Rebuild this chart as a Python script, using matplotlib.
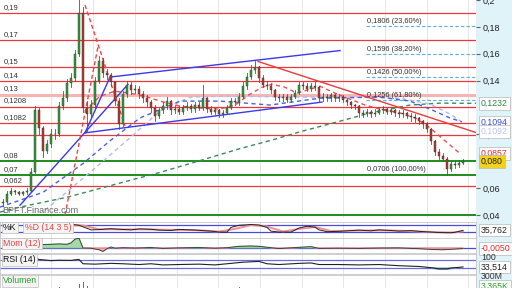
import matplotlib
matplotlib.use('Agg')
import matplotlib.pyplot as plt
import matplotlib.transforms as mtransforms
from matplotlib.patches import Rectangle

plt.rcParams['font.family'] = ['Liberation Sans', 'DejaVu Sans']

# ---- price data (one bar per session) ----
closes = [0.050, 0.056, 0.058, 0.057, 0.056, 0.057, 0.058, 0.072, 0.118, 0.105,
          0.088, 0.093, 0.100, 0.100, 0.121, 0.127, 0.138, 0.142, 0.160, 0.190,
          0.120, 0.115, 0.122, 0.140, 0.155, 0.146, 0.144, 0.139, 0.125, 0.108,
          0.130, 0.137, 0.133, 0.134, 0.130, 0.127, 0.124, 0.120, 0.114, 0.118,
          0.121, 0.125, 0.118, 0.119, 0.117, 0.120, 0.121, 0.119, 0.122, 0.120,
          0.127, 0.119, 0.117, 0.118, 0.115, 0.116, 0.120, 0.125, 0.124, 0.128,
          0.136, 0.143, 0.148, 0.150, 0.142, 0.137, 0.136, 0.133, 0.128, 0.127,
          0.128, 0.126, 0.128, 0.131, 0.137, 0.136, 0.134, 0.136, 0.135, 0.127,
          0.128, 0.127, 0.129, 0.127, 0.128, 0.126, 0.124, 0.122, 0.121, 0.116,
          0.115, 0.117, 0.115, 0.116, 0.118, 0.119, 0.117, 0.118, 0.116, 0.115,
          0.116, 0.114, 0.113, 0.112, 0.110, 0.108, 0.104, 0.095, 0.087, 0.084,
          0.082, 0.074, 0.078, 0.077, 0.079, 0.080]
highs = [0.052, 0.058, 0.060, 0.059, 0.058, 0.058, 0.060, 0.075, 0.121, 0.120,
         0.106, 0.096, 0.104, 0.104, 0.124, 0.132, 0.141, 0.146, 0.163, 0.205,
         0.195, 0.125, 0.126, 0.143, 0.158, 0.157, 0.149, 0.146, 0.140, 0.127,
         0.132, 0.140, 0.139, 0.137, 0.136, 0.132, 0.129, 0.126, 0.122, 0.120,
         0.124, 0.128, 0.126, 0.122, 0.121, 0.122, 0.124, 0.123, 0.124, 0.124,
         0.137, 0.128, 0.121, 0.120, 0.119, 0.118, 0.122, 0.127, 0.127, 0.131,
         0.139, 0.146, 0.152, 0.155, 0.151, 0.144, 0.140, 0.138, 0.134, 0.130,
         0.130, 0.130, 0.130, 0.133, 0.139, 0.139, 0.138, 0.138, 0.139, 0.136,
         0.131, 0.130, 0.131, 0.130, 0.130, 0.129, 0.127, 0.125, 0.123, 0.122,
         0.118, 0.119, 0.118, 0.119, 0.120, 0.121, 0.120, 0.120, 0.119, 0.118,
         0.118, 0.117, 0.116, 0.115, 0.113, 0.111, 0.109, 0.105, 0.096, 0.089,
         0.086, 0.083, 0.080, 0.080, 0.081, 0.082]
lows = [0.047, 0.049, 0.055, 0.056, 0.055, 0.055, 0.056, 0.057, 0.071, 0.100,
        0.083, 0.086, 0.091, 0.097, 0.099, 0.119, 0.125, 0.135, 0.140, 0.158,
        0.117, 0.102, 0.112, 0.120, 0.138, 0.143, 0.141, 0.136, 0.122, 0.104,
        0.106, 0.128, 0.130, 0.131, 0.127, 0.124, 0.121, 0.117, 0.110, 0.112,
        0.116, 0.119, 0.115, 0.116, 0.115, 0.115, 0.118, 0.117, 0.117, 0.118,
        0.118, 0.117, 0.115, 0.115, 0.113, 0.113, 0.115, 0.119, 0.122, 0.122,
        0.127, 0.134, 0.141, 0.146, 0.139, 0.135, 0.134, 0.131, 0.126, 0.125,
        0.125, 0.124, 0.124, 0.127, 0.130, 0.134, 0.132, 0.132, 0.133, 0.124,
        0.125, 0.125, 0.125, 0.125, 0.125, 0.124, 0.122, 0.120, 0.119, 0.113,
        0.113, 0.114, 0.113, 0.114, 0.115, 0.116, 0.115, 0.115, 0.114, 0.113,
        0.113, 0.112, 0.110, 0.109, 0.108, 0.105, 0.102, 0.093, 0.085, 0.082,
        0.080, 0.070, 0.073, 0.075, 0.076, 0.078]
first_open = 0.049

# ---- moving averages (bar position, value) ----
ma_green_x = [-0.75, 4.25, 16, 31.75, 39.25, 49.25, 59.25, 67.5, 74.25, 83.5, 91.75, 101.75, 109.25, 118.25]
ma_green_y = [0.0423, 0.0460, 0.0533, 0.0659, 0.0718, 0.0806, 0.0895, 0.0961, 0.1020, 0.1093, 0.1160, 0.1219, 0.1233, 0.1232]
ma_blue_x = [-0.75, 10, 20, 26.75, 34.25, 44.25, 54.25, 66.75, 79.25, 94.25, 101.75, 106.75, 111.75, 114.75]
ma_blue_y = [0.0460, 0.0570, 0.0784, 0.0953, 0.1123, 0.1248, 0.1248, 0.1219, 0.1270, 0.1278, 0.1248, 0.1189, 0.1123, 0.1094]
ma_lav_x = [10.5, 21.75, 31.75, 39.25, 46.75, 56.75, 74.25, 86.75, 99.25, 106.75, 111.75, 114.75]
ma_lav_y = [0.0437, 0.0718, 0.0975, 0.1175, 0.1278, 0.1285, 0.1278, 0.1278, 0.1270, 0.1226, 0.1152, 0.1092]
ma_red_x = [20.5, 24.25, 28, 31.75, 35.5, 39.25, 44.25, 49.25, 54.25, 58, 61.75, 64.75, 67.25,
            70.5, 73.5, 76.75, 79.25, 83, 86.75, 90.5, 94.25, 99.25, 103, 106.75, 110.5, 114.25]
ma_red_y = [0.1175, 0.1285, 0.1322, 0.1307, 0.1285, 0.1248, 0.1211, 0.1197, 0.1189, 0.1219, 0.1300, 0.1351, 0.1374,
            0.1351, 0.1307, 0.1337, 0.1359, 0.1307, 0.1263, 0.1219, 0.1189, 0.1160, 0.1123, 0.1049, 0.0953, 0.0858]

# ---- drawn trendlines ((x0, y0), (x1, y1)) ----
blue_trends = [((4.25, 0.0474), (31.25, 0.1373)), ((20.5, 0.1012), (26.75, 0.1427)),
               ((26.75, 0.1427), (84.25, 0.1624)), ((20.5, 0.1012), (79.75, 0.1241))]
red_trends = [((63.75, 0.1543), (118.5, 0.1012))]
red_dash_trends = [((20.5, 0.1963), (30.5, 0.1064)), ((15.5, 0.040), (23.75, 0.1654))]

# ---- horizontal levels ----
red_levels = [0.19, 0.17, 0.15, 0.14, 0.1208, 0.1082, 0.0995, 0.062]
green_levels = [0.08, 0.07, 0.04]
pink_levels = [0.1292]
left_labels = [(0.19, '0,19'), (0.17, '0,17'), (0.15, '0,15'), (0.14, '0,14'), (0.13, '0,13'),
               (0.1208, '0,1208'), (0.1082, '0,1082'), (0.08, '0,08'), (0.07, '0,07'), (0.062, '0,062')]
fib_levels = [0.1806, 0.1596, 0.1426, 0.1256]
fib_labels = ['0,1806 (23,60%)', '0,1596 (38,20%)', '0,1426 (50,00%)', '0,1256 (61,80%)']
fib_base = 0.0706
fib_base_label = '0,0706 (100,00%)'
grid_x = [12, 22.5, 33, 43.5, 53.75, 64.25, 74.75, 85, 95.5, 106, 116.25]
right_ticks = [0.04, 0.06, 0.1, 0.14, 0.16, 0.18, 0.2]
right_tick_labels = ['0,04', '0,06', '0,1', '0,14', '0,16', '0,18', '0,2']

# ---- indicators ----
stoch_k_x = [14, 18, 19, 22, 24, 27, 29, 32, 34, 37, 39, 42, 44, 47, 49, 52, 54, 56, 57, 59,
             62, 64, 66, 67, 69, 72, 74, 76, 78, 79, 81, 84, 87, 89, 92, 94, 97, 99, 102, 104,
             107, 109, 112, 113, 115]
stoch_k = [80, 82, 78, 40, 42, 50, 45, 40, 48, 45, 38, 35, 44, 40, 36, 30, 22, 22, 60, 78,
           84, 80, 60, 30, 22, 22, 55, 70, 62, 40, 25, 28, 34, 38, 32, 40, 35, 30, 34, 28,
           22, 18, 17, 20, 36]
stoch_d_x = [14, 20, 24, 30, 36, 42, 48, 54, 58, 62, 66, 70, 74, 78, 82, 88, 94, 100, 106, 112, 115]
stoch_d = [80, 76, 45, 44, 44, 40, 38, 26, 48, 80, 68, 26, 48, 64, 30, 34, 36, 32, 24, 17, 28]
mom_x = [8, 10, 12, 14, 16, 17, 18, 19, 20, 22, 24, 25, 26, 27, 28, 30, 33, 37, 40, 44,
         49, 53, 56, 59, 62, 64, 67, 69, 74, 77, 79, 84, 89, 94, 99, 104, 108, 110, 113, 115]
mom = [0.012, 0.018, 0.020, 0.022, 0.020, 0.028, 0.050, 0.056, -0.002, -0.003,
       -0.012, -0.022, -0.006, 0.004, -0.003, 0.0, -0.002, 0.001, -0.004, -0.001,
       0.001, -0.003, 0.0, 0.008, 0.010, 0.008, 0.0, -0.005, 0.002, 0.006,
       -0.004, -0.003, -0.004, -0.002, -0.001, -0.006, -0.011, -0.012, -0.008, -0.005]
rsi_x = [8, 9, 12, 14, 17, 18, 19, 20, 23, 27, 30, 34, 37, 40, 44, 49, 53, 57, 60, 64,
         66, 69, 74, 77, 79, 84, 89, 94, 99, 104, 107, 109, 111, 112, 115]
rsi = [80, 72, 66, 68, 67, 70, 72, 50, 48, 52, 50, 46, 50, 44, 46, 48, 44, 52, 58, 62,
       50, 46, 52, 54, 46, 46, 44, 46, 40, 36, 30, 24, 24, 28, 33.5]
vol_x = [8, 14, 19, 20, 21, 59]
vol = [160, 150, 190, 210, 170, 150]  # millions
vol_up = [False, True, True, False, False, True]

W, H = 512, 288
fig = plt.figure(figsize=(W / 100, H / 100), dpi=100)
fig.patch.set_facecolor('white')
fig.patches.append(Rectangle((476 / W, 0), 36 / W, 1, transform=fig.transFigure,
                             facecolor='#dff3f9', edgecolor='none', zorder=-5))


def box(x0, y0, x1, y1):
    return [x0 / W, 1 - y1 / H, (x1 - x0) / W, (y1 - y0) / H]


XLIM = (-0.75, 118.25)

# ---------------- main price panel ----------------
ax = fig.add_axes(box(0, 0, 476, 218))
ax.set_xlim(*XLIM)
ax.set_ylim(0.0379, 0.1985)
ax.set_facecolor('white')
for s in ax.spines.values():
    s.set_visible(False)
ax.set_xticks([])
ax.yaxis.tick_right()
ax.set_yticks(right_ticks)
ax.set_yticklabels(right_tick_labels)
ax.tick_params(axis='y', length=3, pad=1.5, labelsize=6.5, color='#666', labelcolor='#222')

for gx in grid_x:
    ax.axvline(gx, color='#e2e2e2', lw=0.6, zorder=1)

for lv in red_levels:
    ax.axhline(lv, color='#e8383d', lw=0.9, zorder=2)
for lv in pink_levels:
    ax.axhline(lv, color='#f5b5b5', lw=2.2, zorder=2)
for lv in green_levels:
    ax.axhline(lv, color='#1f8c1f', lw=1.4, zorder=2)

ylab = mtransforms.blended_transform_factory(ax.transAxes, ax.transData)
for lv, txt in left_labels:
    ax.text(0.008, lv + 0.0015, txt, transform=ylab, fontsize=5.5, color='#333', va='bottom', zorder=6)

fib_x0 = 90.75
for lv, txt in zip(fib_levels, fib_labels):
    ax.plot([fib_x0, XLIM[1]], [lv, lv], color='#55b0e8', lw=0.8, ls=(0, (3, 2)), zorder=3)
    ax.text(fib_x0 + 0.3, lv + 0.0009, txt, fontsize=5.3, color='#333', va='bottom', zorder=6)
ax.text(fib_x0 + 0.3, fib_base + 0.0009, fib_base_label, fontsize=5.3, color='#333', va='bottom', zorder=6)

# moving averages
ax.plot(ma_green_x, ma_green_y, color='#3a8a5a', lw=1.0, ls=(0, (3, 2.5)), zorder=3)
ax.plot(ma_lav_x, ma_lav_y, color='#b4b8f0', lw=1.0, ls=(0, (3, 2.5)), zorder=3)
ax.plot(ma_blue_x, ma_blue_y, color='#4a62d8', lw=1.0, ls=(0, (3, 2.5)), zorder=3)
ax.plot(ma_red_x, ma_red_y, color='#e85050', lw=1.0, ls=(0, (3, 2.5)), zorder=3)

# trendlines
for (x0, y0), (x1, y1) in blue_trends:
    ax.plot([x0, x1], [y0, y1], color='#3a3ae6', lw=1.0, zorder=4)
for (x0, y0), (x1, y1) in red_trends:
    ax.plot([x0, x1], [y0, y1], color='#e83c3c', lw=1.0, zorder=4)
for (x0, y0), (x1, y1) in red_dash_trends:
    ax.plot([x0, x1], [y0, y1], color='#e84848', lw=1.0, ls=(0, (3, 2)), zorder=4)

# candles
opens = [first_open] + closes[:-1]
for i, (o, h, l, c) in enumerate(zip(opens, highs, lows, closes)):
    ax.plot([i, i], [l, h], color='#555', lw=0.6, zorder=5)
    col = '#2f9e38' if c >= o else '#b83a2a'
    ax.add_patch(Rectangle((i - 0.32, min(o, c)), 0.64, max(abs(c - o), 0.0006),
                           facecolor=col, edgecolor='#333', lw=0.3, zorder=5))

ax.text(0.004, 0.0405, 'BPFT.Finance.com', transform=ylab, fontsize=6.5, color='#666',
        va='bottom', zorder=6)


# right value boxes
def value_box(a, y, txt, color, fc='white', transform=None):
    a.text(481 / 476, y, txt, transform=transform, fontsize=6.3, color=color, va='center', ha='left',
           clip_on=False, zorder=10,
           bbox=dict(boxstyle='square,pad=0.2', facecolor=fc, edgecolor='#b8b8b8', lw=0.5))


value_box(ax, 0.1232, '0,1232', '#2a8a3a', transform=ylab)
value_box(ax, 0.1094, '0,1094', '#3a50c8', transform=ylab)
value_box(ax, 0.1022, '0,1092', '#c0c4f0', transform=ylab)
value_box(ax, 0.0857, '0,0857', '#e03030', transform=ylab)
value_box(ax, 0.0800, '0,080', '#222', fc='#f2d21a', transform=ylab)


def sub_panel(y0, y1):
    a = fig.add_axes(box(0, y0, 476, y1))
    a.set_xlim(*XLIM)
    a.set_xticks([])
    a.set_yticks([])
    a.set_facecolor('white')
    for s in a.spines.values():
        s.set_color('#c8c8c8')
        s.set_linewidth(0.6)
    for gx in grid_x:
        a.axvline(gx, color='#e2e2e2', lw=0.6, zorder=1)
    return a


def tag(a, x, txt, color):
    a.text(x, 0.93, txt, transform=a.transAxes, fontsize=6.3, color=color, va='top', ha='left',
           zorder=10, bbox=dict(boxstyle='square,pad=0.15', facecolor='#f4f4f4', edgecolor='#c0c0c0', lw=0.5))


# ---------------- stochastic ----------------
st = sub_panel(222, 237.5)
st.set_ylim(-22.7, 104.7)
for lv in (80, 20):
    st.axhline(lv, color='#4a4ad8', lw=0.9, zorder=2)
st.plot(stoch_d_x, stoch_d, color='#f09090', lw=1.4, zorder=3)
st.plot(stoch_k_x, stoch_k, color='#222', lw=0.7, zorder=4)
tag(st, 0.006, '%K', '#111')
tag(st, 0.052, '%D (14 3 5)', '#e04848')
stt = mtransforms.blended_transform_factory(st.transAxes, st.transData)
value_box(st, 40, '35,762', '#222', transform=stt)

# ---------------- momentum ----------------
mo = sub_panel(238, 253)
mo.set_ylim(-0.0312, 0.057)
mo.axhline(0, color='#4a4ad8', lw=0.9, zorder=2)
mo.fill_between(mom_x, mom, 0, where=[v >= 0 for v in mom], interpolate=True,
                color='#8fd08f', alpha=0.8, zorder=3)
mo.fill_between(mom_x, mom, 0, where=[v < 0 for v in mom], interpolate=True,
                color='#f0a0a0', alpha=0.8, zorder=3)
mo.plot(mom_x, mom, color='#333', lw=0.6, zorder=4)
tag(mo, 0.006, 'Mom (12)', '#e04848')
mot = mtransforms.blended_transform_factory(mo.transAxes, mo.transData)
value_box(mo, -0.004, '-0,0050', '#e03030', transform=mot)

# ---------------- RSI ----------------
rs = sub_panel(254, 273.5)
rs.set_ylim(0, 100)
for lv in (70, 30):
    rs.axhline(lv, color='#6a6ae0', lw=0.9, zorder=2)
rs.fill_between(rsi_x, rsi, 30, where=[v < 30 for v in rsi], interpolate=True,
                color='#7aa6d8', zorder=3)
rs.plot(rsi_x, rsi, color='#222', lw=0.8, zorder=4)
tag(rs, 0.006, 'RSI (14)', '#111')
rst = mtransforms.blended_transform_factory(rs.transAxes, rs.transData)
rs.text(481 / 476, 80, '100', transform=rst, fontsize=6.3, color='#333', va='center', clip_on=False)
value_box(rs, 33.5, '33,514', '#222', transform=rst)

# ---------------- volume ----------------
vo = sub_panel(274.5, 300)
vo.set_ylim(0, 300)
vo.bar(vol_x, vol, width=0.25, color=['#2f9e38' if u else '#e04040' for u in vol_up], zorder=3)
tag(vo, 0.006, 'Volumen', '#2aa02a')
vot = mtransforms.blended_transform_factory(vo.transAxes, vo.transData)
vo.text(481 / 476, 280, '300M', transform=vot, fontsize=6.3, color='#333', va='center', clip_on=False)
value_box(vo, 160, '3,365K', '#2aa02a', transform=vot)

fig.savefig('out.png', dpi=100)
